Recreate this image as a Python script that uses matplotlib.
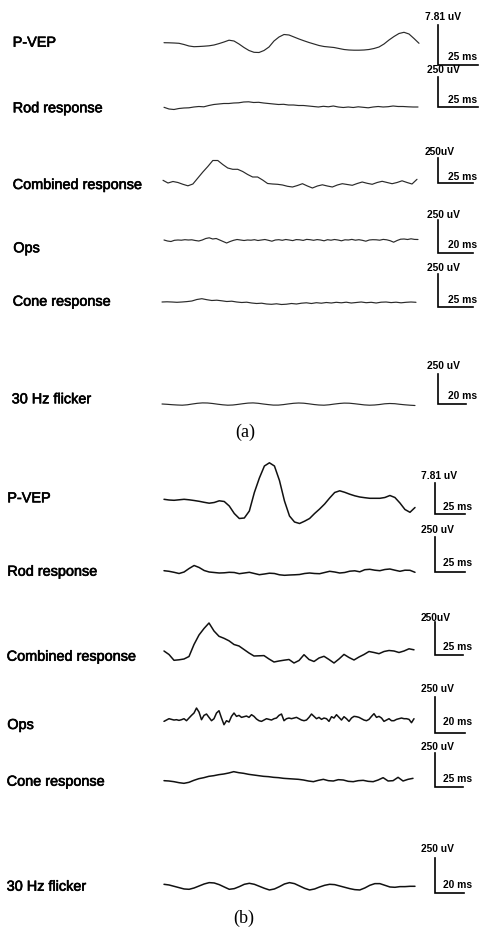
import numpy as np
import matplotlib
matplotlib.use("Agg")
import matplotlib.pyplot as plt
import matplotlib.patheffects as pe

# ---------------- data ----------------
labels = ["P-VEP", "Rod response", "Combined response", "Ops", "Cone response", "30 Hz flicker"]
amp_a = ["7.81 uV", "250 uV", "250uV", "250 uV", "250 uV", "250 uV"]
time_a = ["25 ms", "25 ms", "25 ms", "20 ms", "25 ms", "20 ms"]
amp_b = ["7.81 uV", "250 uV", "250uV", "250 uV", "250 uV", "250 uV"]
time_b = ["25 ms", "25 ms", "25 ms", "20 ms", "25 ms", "20 ms"]
panel_tags = ["(a)", "(b)"]

# panel (a) waveforms (deflection, upward positive)
pvep_a = [0.3, 0.2, 0, -0.3, -1.5, -3, -3.7, -3.5, -3.2, -2.8, -2, -0.6, 1, 2.8, 2, -1,
          -4.5, -7.5, -9.3, -9.5, -7.5, -4, 2, 6, 8.5, 8, 6, 4, 2.2, 0.5, -1, -2.5, -3.5,
          -4, -4.5, -5.5, -6.5, -7, -7.2, -7.2, -7, -6.5, -5.5, -4, -1, 3, 6.5, 9.5, 10.7,
          9, 4.5, -0.3]
rod_a = [-0.3, -2, -2.5, -1.5, -1, -0.8, 0, 0.5, 0.2, 1.5, 2.5, 3, 3.5, 3.5, 4, 4.2, 5,
         5.2, 4.5, 4.7, 4, 3.5, 3, 2.5, 2.7, 2, 2, 1.5, 1.5, 1, 0.5, 0, 0.7, 0.2, 1, 0,
         -0.5, 0, -0.5, 0.2, -0.3, -0.8, 0, 0.5, 0, 0.3, 1, 0.5, 0.5, 0.2, 0, 0]
comb_a = [2.7, 0, 1.5, 0.5, -1.3, -2.8, -1, 5, 11, 16.5, 22.5, 22.5, 18.5, 15, 13.7, 13.7,
          11.5, 8.5, 6, 6, 3, -0.5, -1, -1.3, -2, -3.3, -4, -2.5, -0.7, -3, -5, -3, -1.8,
          -3, -4, -2, -0.7, -1.5, -2.3, -0.5, 1, -0.3, -1.3, 0.5, 1.7, 0.5, -0.7, 0.5, 2.2,
          0.5, -1, 3.7]
ops_a = [0, -1, -1.5, -0.3, 0, -0.2, 0.3, 0, 0.2, -0.5, -1, 0, 1.5, 2.2, 1, 1.5, 0, -1.5,
         -3, -1.5, -0.3, 0.5, 0, -0.5, 0, -0.2, 0.3, -0.5, 0, 0.5, -0.3, -1.2, 0, 0.3,
         -0.3, 0.5, 0, -0.6, 0.4, 0.2, -0.4, 0.6, 0.3, -0.3, 0.4, 0, -0.8, 0.3, -0.2, 0.5,
         0, -0.8, 0.2, 0, 0.6, -0.2, 0.3, -0.3, -1.2, 0, 0.3, 0.2, -0.2, 0.6, 0.2, -0.7,
         -2.2, -0.5, 0.8, 1, 0.5, 1.2, 0.6, 0.5]
cone_a = [0, 0.2, 0, -0.3, 0, 0.4, 1, 2.5, 3.3, 2.3, 1.5, 1.8, 1.2, 0.5, 0.8, 0, -0.5,
          -0.2, -1, -1.5, -1.2, -2.0, -2.3, -1.8, -2.5, -2.2, -1.5, -2, -1.2, -0.8, -1.5,
          -0.7, -1.2, -0.5, -1, -0.3, -0.8, -0.2, -1, -0.5, 0, -0.7, -0.3, -1, -0.2, 0,
          -0.6, -0.2, -0.8, -0.3, 0, -0.3]
flick_a = [0, -0.3, -0.7, -1, -1.2, -0.8, 0, 0.7, 1.1, 1, 0.5, -0.2, -0.8, -1.2, -1, -0.4,
           0.3, 0.9, 1.1, 0.7, 0, -0.6, -1.1, -1.1, -0.6, 0.1, 0.7, 1, 0.8, 0.2, -0.5, -1,
           -1.2, -0.8, -0.1, 0.5, 0.9, 0.8, 0.3, -0.3, -0.9, -1.2, -1, -0.5, 0.2, 0.5, 0.3,
           -0.3, -0.8, -1.2, -1.5]

# panel (b) waveforms
pvep_b = [0.2, -0.5, -0.8, -0.3, 0.2, -0.3, -1, -1.8, -2.8, -3.7, -3, -1.3, -2, -6.5,
          -14, -19, -18.5, -11.5, 7, 21.5, 33.5, 36.7, 33.5, 19, -1.5, -16.5, -22.5, -24,
          -21.7, -19, -14, -9.5, -4.5, 1.5, 7, 8.7, 7.2, 5.3, 3.7, 2.5, 1.8, 1.2, 1.2, 1.2,
          2, 4, 2, -3.5, -10, -12.8, -8]
rod_b = [0.8, 0.2, -0.8, -2, -0.5, 3, 6, 4, 1, -0.5, -1, -1.5, -1.3, -0.8, -1, -2.2, -1.5,
         -0.8, -2, -3.2, -2.5, -1.7, -2, -3.3, -3.8, -3.5, -3.3, -3, -2, -1.5, -2, -2.2, -1,
         0.2, -0.5, -1.5, -1, 0.3, 0.7, -0.3, 1.8, 2.2, 1.3, 0.8, 2, 2.5, 1.3, 0.2, 1.3,
         1.2, -0.8]
comb_b = [4, 0.5, -5.3, -4.8, -4, -1.5, 10.5, 20, 26.5, 32, 24, 18.7, 16.7, 14.2, 10.5, 9,
          5.5, 2, -1, -0.8, -0.6, -4, -7, -6, -5.2, -4.5, -8, -5.5, 0.3, -4.5, -6.5, -3,
          -1.3, -4.5, -8, -4, 0.6, -2.5, -5, -2, 0.5, 3.5, 2.5, 1.3, 3.5, 4.5, 4, 2.5, 4,
          6.2, 5.2]
ops_b = [-1.67, -0.33, 1, 0.33, -0.33, 0, -0.67, 0, 1, -1, 1.67, 4.33, 6.67, 11.67, 7.67,
         0, 4.33, 5.67, 2.33, -1, 1, 6.67, 9, 1.67, -5, -1, -2.33, 3.33, 6.67, 3.33, 4.33,
         2.33, 3, 3.67, 2.33, 5, 3.33, 0.67, -1, -1.67, -0.33, 1, 0.33, -0.33, 1, 1.67,
         4.33, 5.67, -1, 1, 1.67, 1, 1.67, 2.33, 1, -0.33, -1, -0.33, 2.33, 5.67, 3.33, 1,
         2.33, 0.33, 1.67, 1, -1.67, 3, 1.67, 5, 2.33, -0.33, 3, 1, -1.67, 1.67, 3.33, 3,
         2.33, 1, -0.33, -1, 0.33, 3.33, 6, 2.33, 3.33, 1.67, -1.67, -0.33, 1, -1, -1, 0.33,
         1, 1.67, 1, 1, 0.33, -3, 1]
cone_b = [-0.67, -1, -1.67, -2.67, -3.33, -2.33, -0.33, 1.33, 2.33, 3.67, 4.33, 5.33, 6,
          7, 8.33, 7.33, 6.67, 5.67, 5, 4.33, 3.67, 3.33, 2.67, 2.33, 1.67, 1.33, 1, 0.67,
          0, -1, -1.67, -0.33, 0.67, -0.67, -1, 0.33, 0, -1.33, -1.67, -0.67, -0.33,
          -1.33, -1.67, 0, 2.33, -1, -0.67, 2.67, -1, 0.67, 1.67]
flick_b = [2, 1.33, 0, -1.33, -2.67, -3, -1.67, 0.33, 2.33, 3.67, 3.33, 1.67, -0.67, -3,
           -2.33, -0.33, 2, 3, 2, 0, -2, -3.67, -2.67, -0.33, 2.33, 3.67, 2.67, 0.33, -2,
           -3.67, -2.67, -0.67, 1, 2, 1.67, 0.33, -1, -2.33, -3.33, -3.67, -1.67, 1, 2.67,
           2.67, 1, -0.67, -1, -0.33, -0.33, 0, 0]

traces_a = [pvep_a, rod_a, comb_a, ops_a, cone_a, flick_a]
traces_b = [pvep_b, rod_b, comb_b, ops_b, cone_b, flick_b]

# ---------------- layout ----------------
W, H = 481, 933
fig = plt.figure(figsize=(W / 100, H / 100), dpi=100)
ax = fig.add_axes([0, 0, 1, 1])
ax.set_xlim(0, W)
ax.set_ylim(H, 0)
ax.axis("off")

sans = ["Liberation Sans", "DejaVu Sans"]
serif = ["Liberation Serif", "DejaVu Serif"]
thick = [pe.withStroke(linewidth=0.45, foreground="black")]

panel_a = dict(
    label_x=[12.7, 12.7, 12.7, 13.3, 12.7, 11.7],
    label_y=[42.7, 108.3, 185, 248.3, 301.7, 399.3],
    base=[43, 107, 183, 240, 302, 404],
    tx=[(164, 419), (164, 418), (163, 417), (164, 418), (162, 416), (162, 415)],
    bar_x=437.7, bar_end=[478, 478, 473, 473, 473, 466],
    bar_top=[25, 77.3, 158, 220, 274, 374],
    bar_bot=[65, 106.7, 183.3, 253.3, 306.7, 404.3],
    amp_x=[425, 426.7, 424.5, 426.7, 426.7, 426.7],
    amp_y=[16.7, 70, 152, 215, 268.3, 366],
    time_x=448.3, time_y=[56.7, 100, 176.7, 245, 300, 396],
    tag_xy=(245, 432.7), lw=0.85, color="#2a2a2a",
)
panel_b = dict(
    label_x=[7.3, 7.3, 6.7, 7.3, 6.7, 6.7],
    label_y=[498.3, 571.7, 656.7, 725, 781.7, 886.7],
    base=[499.5, 571.5, 655, 719.7, 780, 886.3],
    tx=[(164, 415), (164, 415), (164, 414), (164, 414), (164, 413), (164, 415)],
    bar_x=435, bar_end=[465, 465, 463, 465, 463, 464],
    bar_top=[483.3, 537, 622, 696.7, 753, 858.3],
    bar_bot=[514, 571.7, 655, 732.7, 787.3, 892.7],
    amp_x=[420.7, 420.7, 421, 420.7, 420.7, 420.7],
    amp_y=[476, 530, 618.3, 689.3, 746.7, 849.3],
    time_x=443.3, time_y=[507.3, 563.3, 646.7, 721.7, 779.3, 885],
    tag_xy=(243.3, 918), lw=1.1, color="#111111",
)

def draw_panel(p, traces, amps, times, tag):
    for i, vals in enumerate(traces):
        v = np.asarray(vals, dtype=float)
        x = np.linspace(p["tx"][i][0], p["tx"][i][1], len(v))
        ax.plot(x, p["base"][i] - v, color=p["color"], lw=p["lw"],
                solid_joinstyle="round", solid_capstyle="round")
        ax.text(p["label_x"][i], p["label_y"][i], labels[i], family=sans,
                fontsize=10.4, ha="left", va="center", color="black",
                path_effects=thick)
        # scale bar
        ax.plot([p["bar_x"], p["bar_x"], p["bar_end"][i]],
                [p["bar_top"][i], p["bar_bot"][i], p["bar_bot"][i]],
                color="black", lw=1.2, solid_joinstyle="miter")
        ax.text(p["amp_x"][i], p["amp_y"][i], amps[i], family=sans, fontsize=7.4,
                fontweight="bold", ha="left", va="center")
        ax.text(p["time_x"], p["time_y"][i], times[i], family=sans, fontsize=7.4,
                fontweight="bold", ha="left", va="center")
    ax.text(p["tag_xy"][0], p["tag_xy"][1], tag, family=serif, fontsize=13,
            ha="center", va="center")

draw_panel(panel_a, traces_a, amp_a, time_a, panel_tags[0])
draw_panel(panel_b, traces_b, amp_b, time_b, panel_tags[1])

fig.savefig("out.png", dpi=100, facecolor="white")
